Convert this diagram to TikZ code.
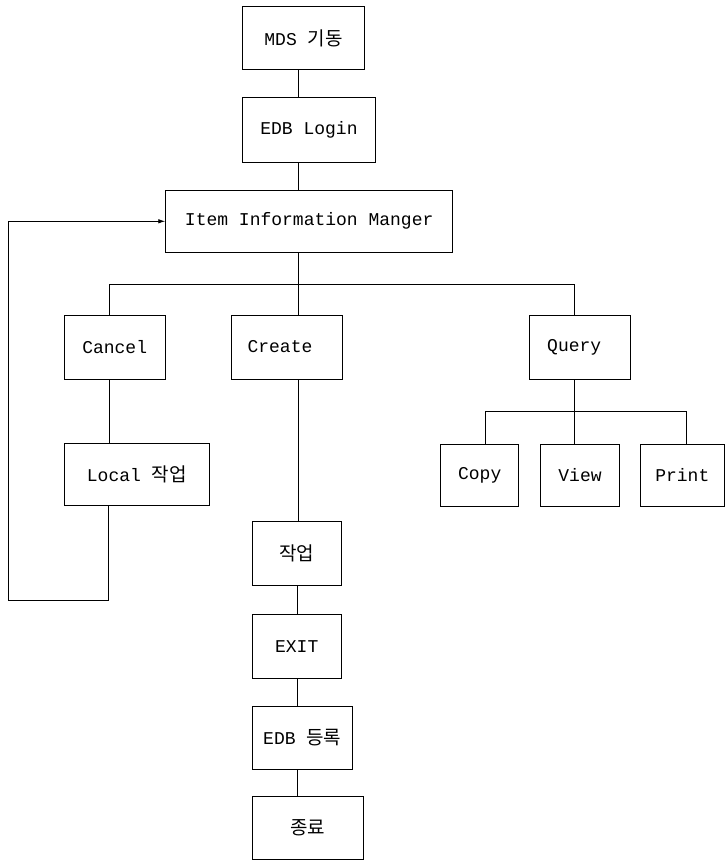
\documentclass[tikz,border=0pt]{standalone}
\usepackage{fontspec}
\setmainfont{Liberation Mono}
\newfontfamily\kr{Noto Sans CJK KR}
\usetikzlibrary{arrows.meta}
\begin{document}
\begin{tikzpicture}[x=1pt,y=-1pt,
  box/.style={draw, line width=0.9pt, inner sep=0pt, font=\fontsize{18}{20}\selectfont},
  link/.style={line width=0.8pt},
  tip/.style={-{Latex[length=7pt,width=4.5pt]}}]
\useasboundingbox (0,0) rectangle (725,861);
% boxes
\node[box, minimum width=121.6pt, minimum height=63.3pt] (mds) at (303.5,38.3) {MDS {\kr\fontsize{19}{20}\selectfont 기동}};
\node[box, minimum width=132.6pt, minimum height=64.6pt] (login) at (309,130) {EDB Login};
\node[box, minimum width=287pt, minimum height=62.7pt] (item) at (309.2,221.3) {Item Information Manger};
\node[box, minimum width=100.7pt, minimum height=64pt] (cancel) at (114.7,347) {Cancel};
\node[box, minimum width=110.6pt, minimum height=64pt] (create) at (287,347) {Create\kern14pt\relax};
\node[box, minimum width=101pt, minimum height=64.7pt] (query) at (580.2,347.3) {Query\kern12pt\relax};
\node[box, minimum width=145pt, minimum height=62.4pt] (local) at (136.8,474.5) {Local {\kr\fontsize{19}{20}\selectfont 작업}};
\node[box, minimum width=78pt, minimum height=62.7pt] (copy) at (479.7,475.3) {Copy};
\node[box, minimum width=78.6pt, minimum height=62.7pt] (view) at (580,475.3) {View};
\node[box, minimum width=83.3pt, minimum height=62.7pt] (print) at (682.3,475.3) {Print};
\node[box, minimum width=88.7pt, minimum height=63.3pt] (work) at (296.7,553.3) {\kr\fontsize{19}{20}\selectfont 작업};
\node[box, minimum width=88.7pt, minimum height=63.7pt] (exit) at (296.7,646.2) {EXIT};
\node[box, minimum width=100pt, minimum height=63pt] (reg) at (302.3,737.5) {EDB {\kr\fontsize{19}{20}\selectfont 등록}};
\node[box, minimum width=110.7pt, minimum height=62.7pt] (end) at (307.7,828) {\kr\fontsize{19}{20}\selectfont 종료};
% helper coordinates
\coordinate (sp) at (298,0);
\coordinate (sp2) at (297,0);
\coordinate (cl) at (109,284);
\coordinate (ql) at (574.7,284);
\coordinate (sl) at (485.3,411.7);
\coordinate (sr) at (686,411.7);
\coordinate (lb) at (108.3,600);
\coordinate (ll) at (8.3,600);
% connectors
\draw[link] (mds.south -| sp) -- (login.north -| sp);
\draw[link] (login.south -| sp) -- (item.north -| sp);
\draw[link] (item.south -| sp) -- (create.north -| sp);
\draw[link] (cancel.north -| cl) -- (cl) -- (ql) -- (query.north -| ql);
\draw[link] (cancel.south -| cl) -- (local.north -| cl);
\draw[link] (create.south -| sp) -- (work.north -| sp);
\draw[link] (work.south -| sp2) -- (exit.north -| sp2);
\draw[link] (exit.south -| sp2) -- (reg.north -| sp2);
\draw[link] (reg.south -| sp2) -- (end.north -| sp2);
\draw[link] (query.south -| ql) -- (view.north -| ql);
\draw[link] (copy.north -| sl) -- (sl) -- (sr) -- (print.north -| sr);
\draw[link, tip] (local.south -| lb) -- (lb) -- (ll) -- (ll |- item.west) -- (item.west);
\end{tikzpicture}
\end{document}
